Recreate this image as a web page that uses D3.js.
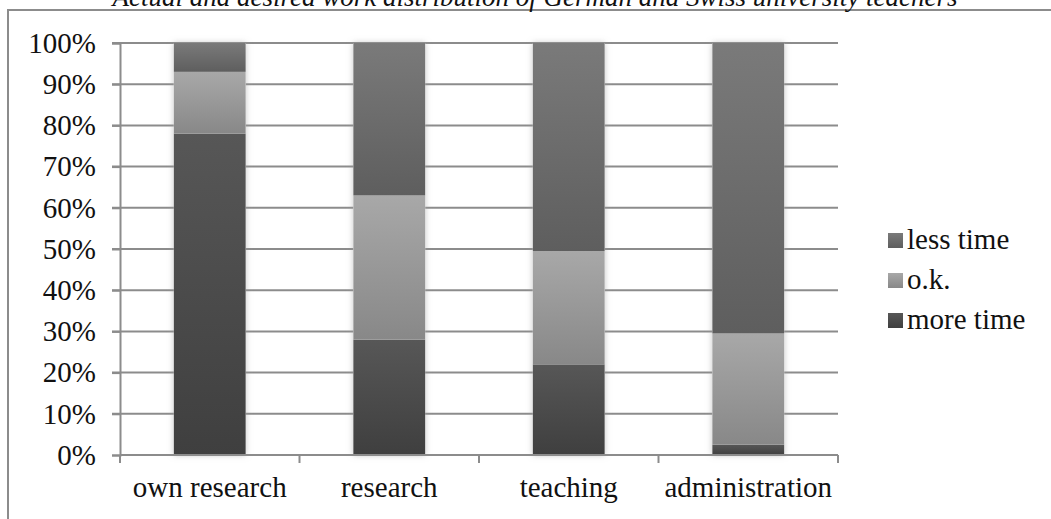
<!DOCTYPE html>
<html>
<head>
<meta charset="utf-8">
<script src="https://cdn.jsdelivr.net/npm/d3@7"></script>
<style>
  body { margin: 0; background: #fff; }
  svg text { font-family: "Liberation Serif", "Times New Roman", serif !important; fill: #111; }
</style>
</head>
<body>
<div class="chart"></div>
<script>
var categories = ["own research", "research", "teaching", "administration"];
var seriesNames = ["more time", "o.k.", "less time"];
var moreTime = [78, 28, 22, 2.5];
var okTime = [15, 35, 27.5, 27];
var lessTime = [7, 37, 50.5, 70.5];
var yTicks = [0, 10, 20, 30, 40, 50, 60, 70, 80, 90, 100];

var chartOptions = {
  width: 1051,
  height: 519,
  left: 120,
  right: 838,
  top: 43,
  bottom: 455
};

var svg = d3.select(".chart").append("svg")
  .attr("width", chartOptions.width)
  .attr("height", chartOptions.height)
  .attr("font-family", "Liberation Serif, serif");

// gradients for each series (top lighter, bottom darker)
var defs = svg.append("defs");
var shades = [["#575757", "#3f3f3f"], ["#a8a8a8", "#888888"], ["#7a7a7a", "#5e5e5e"]];
shades.forEach(function (s, i) {
  var g = defs.append("linearGradient").attr("id", "grad" + i)
    .attr("x1", 0).attr("y1", 0).attr("x2", 0).attr("y2", 1);
  g.append("stop").attr("offset", "0%").attr("stop-color", s[0]);
  g.append("stop").attr("offset", "100%").attr("stop-color", s[1]);
});
var shadow = defs.append("filter").attr("id", "shadow")
  .attr("x", "-20%").attr("y", "-5%").attr("width", "140%").attr("height", "110%");
shadow.append("feDropShadow").attr("dx", 0).attr("dy", 0)
  .attr("stdDeviation", 3).attr("flood-color", "#999").attr("flood-opacity", 0.6);

// outer frame
svg.append("path")
  .attr("d", "M8," + chartOptions.height + " V10 H" + chartOptions.width)
  .attr("fill", "none").attr("stroke", "#8c8c8c").attr("stroke-width", 2);

// title (cut at the top edge as in the source)
svg.append("text")
  .attr("x", 535).attr("y", 6)
  .attr("text-anchor", "middle")
  .style("font-style", "italic")
  .style("font-size", "27px")
  .text("Actual and desired work distribution of German and Swiss university teachers");

var x = d3.scaleBand().domain(categories)
  .range([chartOptions.left, chartOptions.right])
  .paddingInner(0.6).paddingOuter(0.3);

var y = d3.scaleLinear().domain([0, 100])
  .range([chartOptions.bottom, chartOptions.top]);

// gridlines
svg.append("g").selectAll("line").data(yTicks.slice(1)).enter().append("line")
  .attr("x1", chartOptions.left - 8).attr("x2", chartOptions.right)
  .attr("y1", function (d) { return y(d); }).attr("y2", function (d) { return y(d); })
  .attr("stroke", "#8c8c8c").attr("stroke-width", 2);

// y axis
var yAxis = svg.append("g")
  .attr("transform", "translate(" + chartOptions.left + ",0)")
  .call(d3.axisLeft(y).tickValues(yTicks).tickSize(8).tickPadding(16)
    .tickFormat(function (d) { return d + "%"; }));
yAxis.attr("font-family", null).attr("font-size", null);
yAxis.selectAll("line, path").attr("stroke", "#8c8c8c").attr("stroke-width", 2);
yAxis.selectAll("text").style("font-size", "29px").attr("fill", "#111");

// stacked bars
var table = categories.map(function (c, i) {
  return { cat: c, "more time": moreTime[i], "o.k.": okTime[i], "less time": lessTime[i] };
});
var stacked = d3.stack().keys(seriesNames)(table);

var barGroup = svg.append("g");
table.forEach(function (row) {
  barGroup.append("rect")
    .attr("x", x(row.cat)).attr("width", x.bandwidth())
    .attr("y", y(100)).attr("height", y(0) - y(100))
    .attr("fill", "#fff").attr("filter", "url(#shadow)");
});
stacked.forEach(function (layer, k) {
  barGroup.selectAll(".s" + k).data(layer).enter().append("rect")
    .attr("class", "s" + k)
    .attr("x", function (d) { return x(d.data.cat); })
    .attr("width", x.bandwidth())
    .attr("y", function (d) { return y(d[1]); })
    .attr("height", function (d) { return y(d[0]) - y(d[1]); })
    .attr("fill", "url(#grad" + k + ")");
});

// x axis
var xAxis = svg.append("g")
  .attr("transform", "translate(0," + chartOptions.bottom + ")");
xAxis.append("line")
  .attr("x1", chartOptions.left).attr("x2", chartOptions.right)
  .attr("stroke", "#8c8c8c").attr("stroke-width", 2);
var boundaries = [0, 1, 2, 3, 4].map(function (i) { return chartOptions.left + i * x.step(); });
xAxis.selectAll(".tk").data(boundaries).enter().append("line")
  .attr("x1", function (d) { return d; }).attr("x2", function (d) { return d; })
  .attr("y1", 0).attr("y2", 8)
  .attr("stroke", "#8c8c8c").attr("stroke-width", 2);
xAxis.selectAll(".lbl").data(categories).enter().append("text")
  .attr("x", function (d) { return x(d) + x.bandwidth() / 2; })
  .attr("y", 42)
  .attr("text-anchor", "middle")
  .style("font-size", "29px")
  .text(function (d) { return d; });

// legend (top to bottom: less time, o.k., more time)
var legendOrder = [2, 1, 0];
var legend = svg.append("g");
legendOrder.forEach(function (k, i) {
  var cy = 240 + i * 40;
  legend.append("rect")
    .attr("x", 888).attr("y", cy - 7).attr("width", 15).attr("height", 15)
    .attr("fill", "url(#grad" + k + ")");
  legend.append("text")
    .attr("x", 907).attr("y", cy + 9)
    .style("font-size", "29px")
    .text(seriesNames[k]);
});
</script>
</body>
</html>
